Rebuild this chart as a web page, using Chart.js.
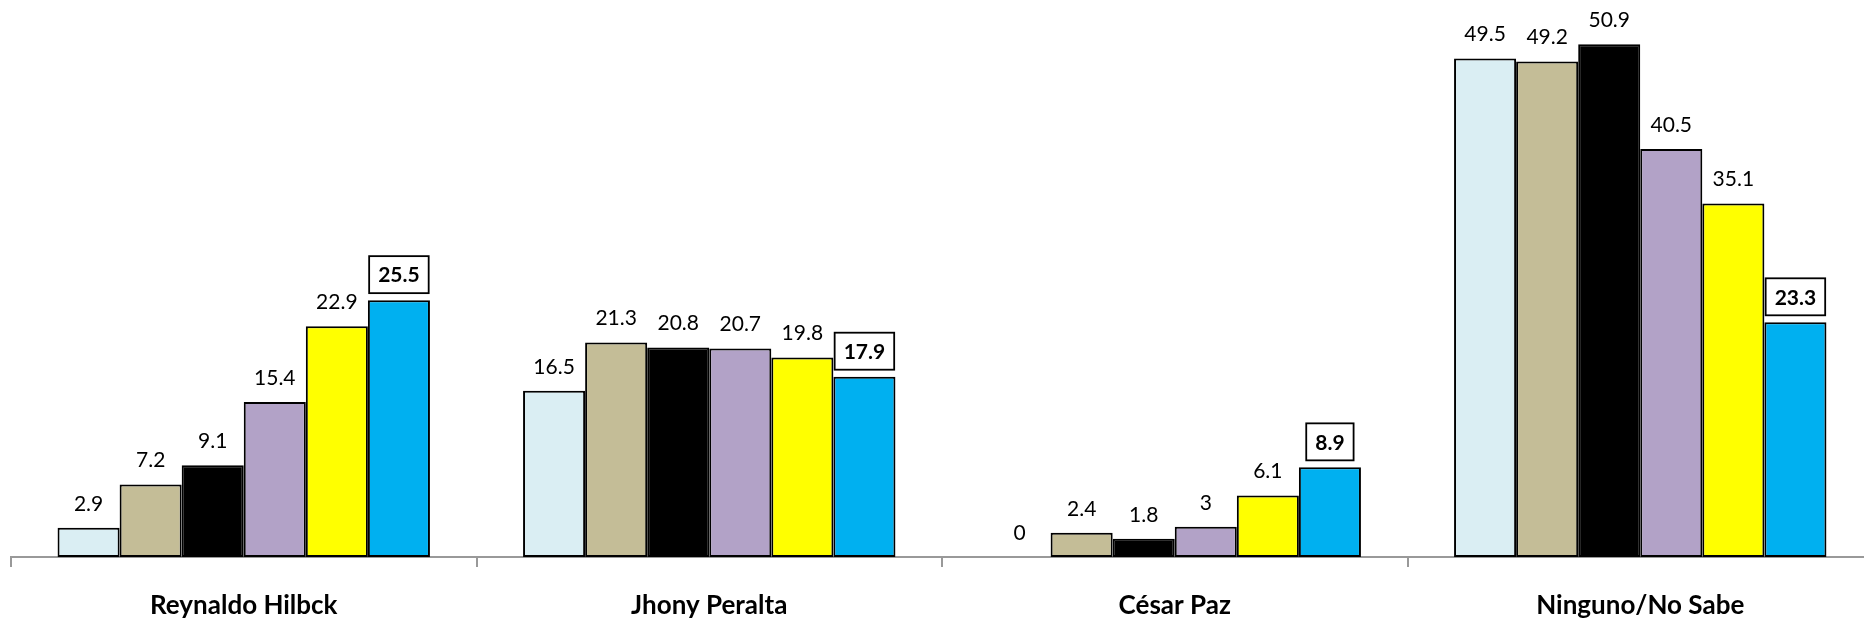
<!DOCTYPE html>
<html>
<head>
<meta charset="utf-8">
<script src="https://cdn.jsdelivr.net/npm/chart.js@4/dist/chart.umd.min.js"></script>
<style>
  html, body { margin: 0; padding: 0; background: #fff; overflow: hidden; }
  #wrap { width: 1864px; height: 623px; overflow: hidden; }
</style>
</head>
<body>
<div id="wrap"><canvas id="c" width="1880" height="623"></canvas></div>
<script>
const categories = ["Reynaldo Hilbck", "Jhony Peralta", "César Paz", "Ninguno/No Sabe"];
const seriesNames = ["Serie 1", "Serie 2", "Serie 3", "Serie 4", "Serie 5", "Serie 6"];
const serie1 = [2.9, 16.5, 0, 49.5];
const serie2 = [7.2, 21.3, 2.4, 49.2];
const serie3 = [9.1, 20.8, 1.8, 50.9];
const serie4 = [15.4, 20.7, 3, 40.5];
const serie5 = [22.9, 19.8, 6.1, 35.1];
const serie6 = [25.5, 17.9, 8.9, 23.3];
const seriesValues = [serie1, serie2, serie3, serie4, serie5, serie6];
const seriesColors = ["#DAEEF3", "#C4BD97", "#000000", "#B2A2C7", "#FFFF00", "#00B0F0"];

const FONT = "Lato, 'Open Sans', sans-serif";

const labelPlugin = {
  id: 'barLabels',
  afterDatasetsDraw(chart) {
    const ctx = chart.ctx;
    const last = chart.data.datasets.length - 1;
    chart.data.datasets.forEach((ds, di) => {
      const meta = chart.getDatasetMeta(di);
      meta.data.forEach((bar, i) => {
        const v = ds.data[i];
        const txt = String(v);
        ctx.save();
        ctx.textAlign = 'center';
        ctx.textBaseline = 'middle';
        ctx.fillStyle = '#000';
        if (di === last) {
          ctx.font = "bold 21px " + FONT;
          const w = ctx.measureText(txt).width + 18;
          const h = 37;
          const bottom = bar.y - 7;
          const cy = bottom - h / 2;
          ctx.fillStyle = '#fff';
          ctx.fillRect(bar.x - w / 2, bottom - h, w, h);
          ctx.strokeStyle = '#000';
          ctx.lineWidth = 1.8;
          ctx.strokeRect(bar.x - w / 2, bottom - h, w, h);
          ctx.fillStyle = '#000';
          ctx.fillText(txt, bar.x, cy + 1);
        } else {
          ctx.font = "21px " + FONT;
          ctx.fillText(txt, bar.x, bar.y - 24);
        }
        ctx.restore();
      });
    });
  }
};

new Chart(document.getElementById('c'), {
  type: 'bar',
  data: {
    labels: categories,
    datasets: seriesValues.map((vals, k) => ({
      label: seriesNames[k],
      data: vals,
      backgroundColor: seriesColors[k],
      borderColor: '#000',
      borderWidth: 2,
      borderSkipped: false,
      categoryPercentage: 0.8,
      barPercentage: 1.0
    }))
  },
  options: {
    responsive: false,
    animation: false,
    devicePixelRatio: 1,
    layout: { padding: { left: 11, right: 7, top: 3, bottom: 0 } },
    plugins: { legend: { display: false }, tooltip: { enabled: false } },
    scales: {
      y: { display: false, min: 0, max: 55 },
      x: {
        afterFit: (s) => { s.height = 66; },
        grid: { display: true, drawOnChartArea: false, drawTicks: true, tickLength: 10, color: '#999', lineWidth: 2, offset: true },
        border: { display: true, color: '#999', width: 2 },
        ticks: { color: '#000', padding: 23, font: { family: FONT, size: 26, weight: 'bold' } }
      }
    }
  },
  plugins: [labelPlugin]
});
</script>
</body>
</html>
